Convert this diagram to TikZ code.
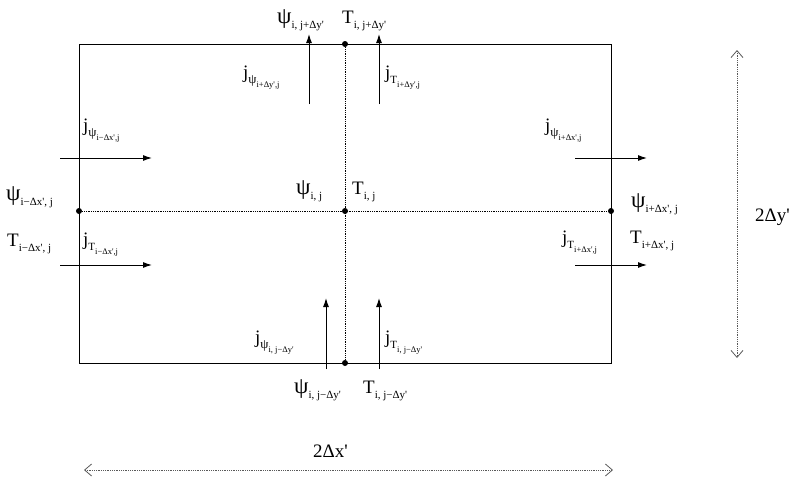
\documentclass[tikz,border=0pt]{standalone}
\usepackage{fontspec}
\setmainfont{Liberation Serif}
\usetikzlibrary{arrows.meta}
\newcommand{\pr}{\textquotesingle}
\newcommand{\bpsi}{{\fontsize{23}{23}\selectfont ψ}}
\newcommand{\spsi}{{\fontsize{13}{13}\selectfont ψ}}
\newcommand{\sbs}[1]{\raisebox{-0.3em}{\fontsize{11}{11}\selectfont #1}}
\newcommand{\ssbs}[1]{\raisebox{-0.35em}{\fontsize{8.5}{8.5}\selectfont #1}}
\begin{document}
\begin{tikzpicture}[x=1pt,y=-1pt,
  lbl/.style={anchor=base west,inner sep=0pt,font=\fontsize{19}{19}\selectfont},
  flux/.style={line width=1pt,-{Latex[length=9pt,width=6pt]}},
  dimline/.style={densely dotted,gray!70!black,line width=0.8pt,{Straight Barb[length=7pt,width=12pt]}-{Straight Barb[length=7pt,width=12pt]}},
  grid/.style={densely dotted,line width=0.8pt},
  pt/.style={circle,fill,inner sep=0pt,minimum size=6pt}]
\useasboundingbox (0,0) rectangle (796,482);
% nodes
\node[pt] (C) at (345,211) {};
\node[pt] (N) at (345,44) {};
\node[pt] (S) at (345,363) {};
\node[pt] (W) at (79,211) {};
\node[pt] (E) at (611,211) {};
\coordinate (NW) at (79,44);
\coordinate (NE) at (611,44);
\coordinate (SW) at (79,363);
\coordinate (SE) at (611,363);
\draw[line width=0.9pt] (NW) -- (NE) -- (SE) -- (SW) -- cycle;
\draw[grid] (W) -- (E);
\draw[grid] (N) -- (S);
% flux arrows
\coordinate (a1s) at (60,158);  \coordinate (a1e) at (152,158);
\coordinate (a2s) at (60,265);  \coordinate (a2e) at (152,265);
\coordinate (a3s) at (575,158); \coordinate (a3e) at (647,158);
\coordinate (a4s) at (575,265); \coordinate (a4e) at (647,265);
\coordinate (a5s) at (309,104); \coordinate (a5e) at (309,34);
\coordinate (a6s) at (379,104); \coordinate (a6e) at (379,34);
\coordinate (a7s) at (326,369); \coordinate (a7e) at (326,298);
\coordinate (a8s) at (379,369); \coordinate (a8e) at (379,298);
\draw[flux] (a1s) -- (a1e);
\draw[flux] (a2s) -- (a2e);
\draw[flux] (a3s) -- (a3e);
\draw[flux] (a4s) -- (a4e);
\draw[flux] (a5s) -- (a5e);
\draw[flux] (a6s) -- (a6e);
\draw[flux] (a7s) -- (a7e);
\draw[flux] (a8s) -- (a8e);
% labels top
\node[lbl] (l1) at (277,23) {\bpsi\sbs{i, j+Δy\pr}};
\node[lbl] (l2) at (342,23) {T\sbs{i, j+Δy\pr}};
\node[lbl] (l3) at (243,78) {j\sbs{\spsi\ssbs{i+Δy\pr,j}}};
\node[lbl] (l4) at (385,78) {j\sbs{T\ssbs{i+Δy\pr,j}}};
% left
\node[lbl] (l5) at (83,131) {j\sbs{\spsi\ssbs{i−Δx\pr,j}}};
\node[lbl] (l6) at (6,200) {\bpsi\sbs{i−Δx\pr, j}};
\node[lbl] (l7) at (7,246) {T\sbs{i−Δx\pr, j}};
\node[lbl] (l8) at (83,245) {j\sbs{T\ssbs{i−Δx\pr,j}}};
% right
\node[lbl] (l9) at (545,131) {j\sbs{\spsi\ssbs{i+Δx\pr,j}}};
\node[lbl] (l10) at (631,207) {\bpsi\sbs{i+Δx\pr, j}};
\node[lbl] (l11) at (562,243) {j\sbs{T\ssbs{i+Δx\pr,j}}};
\node[lbl] (l12) at (630,243) {T\sbs{i+Δx\pr, j}};
% center
\node[lbl] (l13) at (296,194) {\bpsi\sbs{i, j}};
\node[lbl] (l14) at (352,194) {T\sbs{i, j}};
% bottom
\node[lbl] (l15) at (255,343) {j\sbs{\spsi\ssbs{i, j−Δy\pr}}};
\node[lbl] (l16) at (385,343) {j\sbs{T\ssbs{i, j−Δy\pr}}};
\node[lbl] (l17) at (294,393) {\bpsi\sbs{i, j−Δy\pr}};
\node[lbl] (l18) at (363,393) {T\sbs{i, j−Δy\pr}};
% dimensions
\coordinate (dy1) at (737,50); \coordinate (dy2) at (737,358);
\coordinate (dx1) at (84,470); \coordinate (dx2) at (613,470);
\draw[dimline] (dy1) -- (dy2);
\draw[dimline] (dx1) -- (dx2);
\node[lbl] (dyl) at (755,221) {2Δy\pr};
\node[lbl] (dxl) at (313,457) {2Δx\pr};
\end{tikzpicture}
\end{document}
